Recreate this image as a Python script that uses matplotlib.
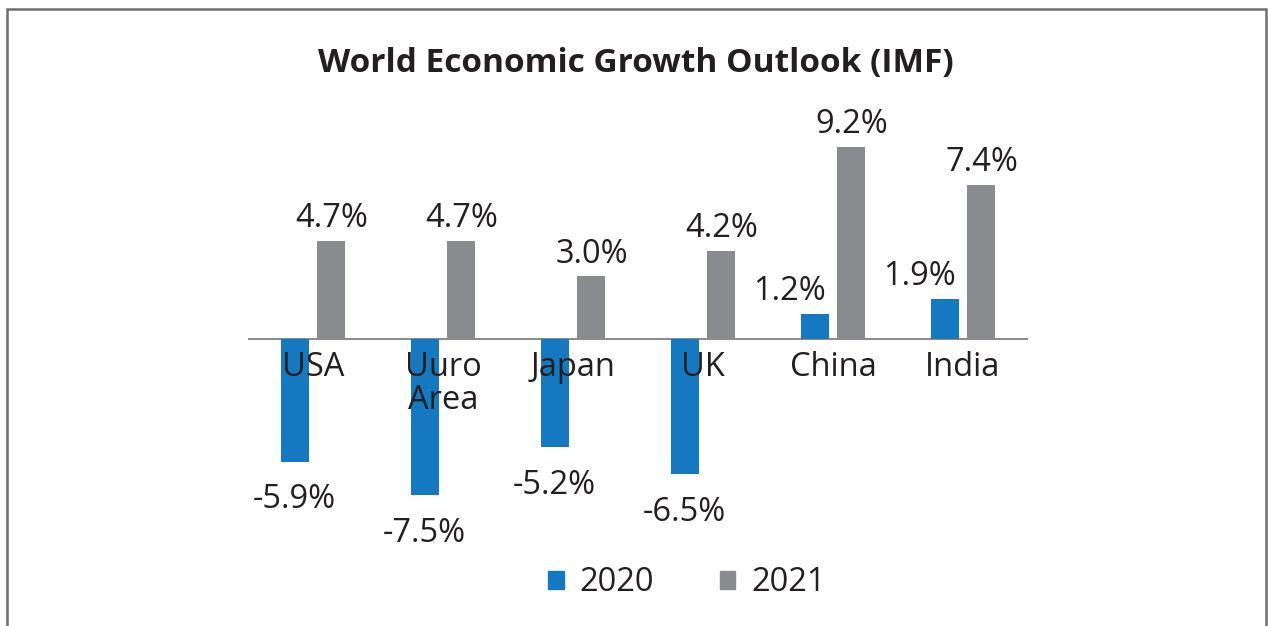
import matplotlib.pyplot as plt
from matplotlib.patches import Patch, Rectangle

countries = ["USA", "Uuro\nArea", "Japan", "UK", "China", "India"]
growth_2020 = [-5.9, -7.5, -5.2, -6.5, 1.2, 1.9]
growth_2021 = [4.7, 4.7, 3.0, 4.2, 9.2, 7.4]
series_names = ["2020", "2021"]

BLUE = "#1479c0"
GRAY = "#8a8b8e"
TEXT = "#231f20"

plt.rcParams["font.family"] = ["Open Sans", "DejaVu Sans"]

fig = plt.figure(figsize=(12.68, 6.26), dpi=100)
ax = fig.add_axes([248 / 1268, 0.1588, 780 / 1268, 0.6328])

x = list(range(len(countries)))
w = 0.215
off = 0.142
ax.bar([i - off for i in x], growth_2020, width=w, color=BLUE, zorder=2)
ax.bar([i + off for i in x], growth_2021, width=w, color=GRAY, zorder=2)
ax.axhline(0, color="#808080", lw=1.3, zorder=1)

ax.set_xlim(-0.5, len(countries) - 0.5)
ax.set_ylim(-9, 10)
ax.axis("off")

fs = 23.5
# value labels
for i, v in enumerate(growth_2020):
    if v < 0:
        ax.annotate(f"{v:.1f}%", (i - off, v), xytext=(0, -15.5), textcoords="offset points",
                    ha="center", va="top", fontsize=fs, color=TEXT, zorder=4)
    else:
        ax.annotate(f"{v:.1f}%", (i - off, v), xytext=(-18, 10), textcoords="offset points",
                    ha="center", va="baseline", fontsize=fs, color=TEXT, zorder=4)
for i, v in enumerate(growth_2021):
    ax.annotate(f"{v:.1f}%", (i + off, v), xytext=(0, 10), textcoords="offset points",
                ha="center", va="baseline", fontsize=fs, color=TEXT, zorder=4)

# category labels below the zero line
for i, name in enumerate(countries):
    ax.annotate(name, (i, 0), xytext=(0, -8.5), textcoords="offset points",
                ha="center", va="top", fontsize=fs, color=TEXT, linespacing=1.0, zorder=4)

fig.text(0.5016, 0.898, "World Economic Growth Outlook (IMF)", ha="center", va="center",
         fontsize=24, fontweight="bold", color=TEXT)

handles = [Patch(color=BLUE), Patch(color=GRAY)]
fig.legend(handles, series_names, loc="center", bbox_to_anchor=(0.5418, 0.0687), ncol=2,
           frameon=False, fontsize=fs, handlelength=0.47, handleheight=0.47,
           handletextpad=0.5, columnspacing=2.0, labelcolor=TEXT)

# outer frame
fig.patches.append(Rectangle((7 / 1268, -0.1), 1259 / 1268, 1.1 - 9 / 626, fill=False,
                             lw=1.8, edgecolor="#6d6e71", transform=fig.transFigure))

fig.savefig("out.png", dpi=100)
